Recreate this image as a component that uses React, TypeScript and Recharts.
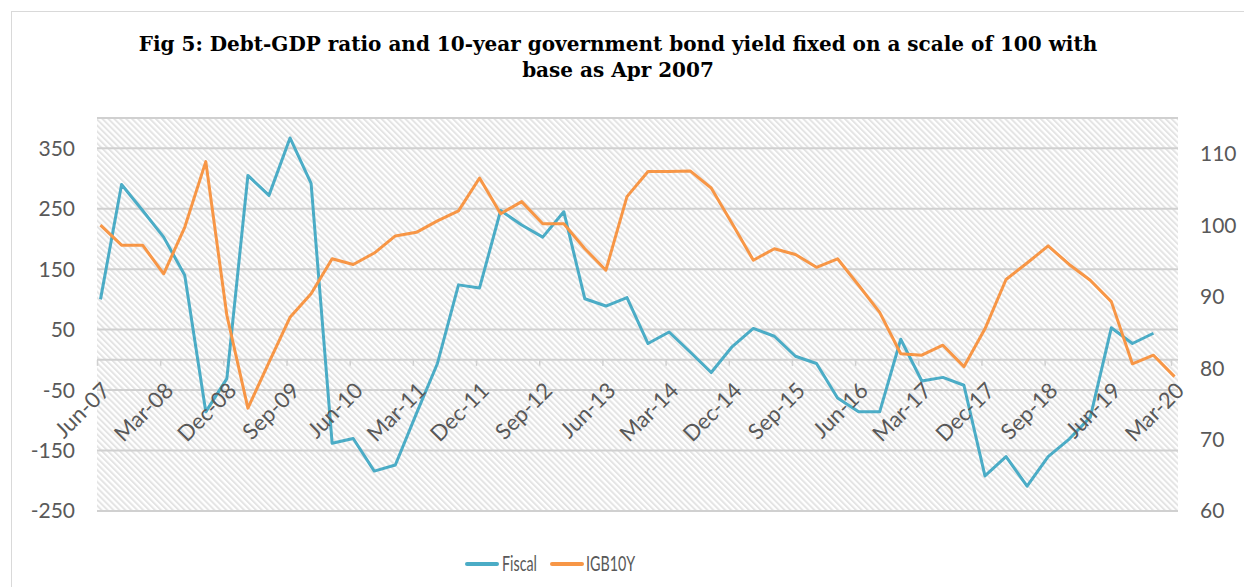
import { LineChart, Line, XAxis, YAxis, CartesianGrid, ReferenceLine } from 'recharts'

// quarterly categories, Jun-07 .. Mar-20
const quarters = [
  'Jun-07', 'Sep-07', 'Dec-07', 'Mar-08', 'Jun-08', 'Sep-08', 'Dec-08', 'Mar-09',
  'Jun-09', 'Sep-09', 'Dec-09', 'Mar-10', 'Jun-10', 'Sep-10', 'Dec-10', 'Mar-11',
  'Jun-11', 'Sep-11', 'Dec-11', 'Mar-12', 'Jun-12', 'Sep-12', 'Dec-12', 'Mar-13',
  'Jun-13', 'Sep-13', 'Dec-13', 'Mar-14', 'Jun-14', 'Sep-14', 'Dec-14', 'Mar-15',
  'Jun-15', 'Sep-15', 'Dec-15', 'Mar-16', 'Jun-16', 'Sep-16', 'Dec-16', 'Mar-17',
  'Jun-17', 'Sep-17', 'Dec-17', 'Mar-18', 'Jun-18', 'Sep-18', 'Dec-18', 'Mar-19',
  'Jun-19', 'Sep-19', 'Dec-19', 'Mar-20',
]

const fiscal = [
  100, 290, 247, 203, 140, -86, -31, 305,
  272, 367, 292, -138, -130, -184, -174, -89,
  -6, 124, 119, 247, 223, 203, 245, 101,
  89, 103, 27, 46, 13, -21, 22, 52,
  39, 6, -6, -63, -86, -86, 34, -35,
  -29, -42, -192, -160, -209, -160, -131, -95,
  53, 27, 44, null,
]

const igb10y = [
  100.0, 97.2, 97.2, 93.2, 99.7, 108.9, 87.4, 74.4,
  80.8, 87.1, 90.4, 95.3, 94.5, 96.1, 98.5, 99.0,
  100.6, 102.0, 106.6, 101.6, 103.3, 100.2, 100.2, 96.7,
  93.7, 104.0, 107.5, 107.5, 107.6, 105.2, 100.2, 95.1,
  96.7, 95.9, 94.1, 95.3, 91.6, 87.8, 82.0, 81.8,
  83.2, 80.2, 85.5, 92.4, 94.7, 97.1, 94.5, 92.3,
  89.3, 80.6, 81.8, 78.8,
]

const leftTicks = [-250, -150, -50, 50, 150, 250, 350]
const rightTicks = [60, 70, 80, 90, 100, 110]

const LEFT_MIN = -250
const LEFT_MAX = 400
const RIGHT_MIN = 60
const RIGHT_MAX = 115

const data = quarters.map((q, i) => ({ q, fiscal: fiscal[i], igb10y: igb10y[i] }))

const W = 1244
const H = 579
const TOP = 110
const X_AXIS_H = 20
const BOTTOM = 56
const PLOT_H = H - TOP - BOTTOM - X_AXIS_H
// the category axis crosses the left axis at 0
const ZERO_Y = TOP + (PLOT_H * LEFT_MAX) / (LEFT_MAX - LEFT_MIN)

const TEAL = '#4BACC6'
const ORANGE = '#F79646'
const GRID = '#d0d0d0'
const TEXT = '#595959'
const FONT = 'Lato, "Open Sans", sans-serif'

const CategoryTick = ({ x, payload }: any) => {
  const tx = x + 5
  const ty = ZERO_Y + 26
  return (
    <g>
      <line x1={x - 3} x2={x - 3} y1={ZERO_Y} y2={ZERO_Y + 6} stroke={GRID} strokeWidth={1.5} />
      <text
        x={tx}
        y={ty}
        transform={`rotate(-45 ${tx} ${ty})`}
        textAnchor="end"
        dominantBaseline="central"
        fill={TEXT}
        fontSize={22}
        fontFamily={FONT}
      >
        {payload.value}
      </text>
    </g>
  )
}

const LegendItem = ({ color, label, left, textLeft }: any) => (
  <>
    <div style={{ position: 'absolute', left, top: 554, width: 34, height: 4, borderRadius: 2, background: color }} />
    <div
      style={{
        position: 'absolute', left: textLeft, top: 541, fontFamily: FONT, fontSize: 22,
        color: TEXT, transform: 'scaleX(0.65)', transformOrigin: 'left center', whiteSpace: 'nowrap',
      }}
    >
      {label}
    </div>
  </>
)

export default function App() {
  return (
    <div style={{ position: 'relative', width: W, height: H, overflow: 'hidden' }}>
      <div style={{ position: 'absolute', left: 3, top: 3, width: 1300, height: 700, border: '1px solid #d9d9d9' }} />
      <div
        style={{
          position: 'absolute', left: 0, top: 23, width: 1220, textAlign: 'center',
          fontFamily: '"DejaVu Serif", serif', fontWeight: 'bold', fontSize: 20,
          lineHeight: '26px', color: '#000',
        }}
      >
        Fig 5: Debt-GDP ratio and 10-year government bond yield fixed on a scale of 100 with
        <br />
        base as Apr 2007
      </div>
      <div style={{ position: 'absolute', left: 0, top: 0 }}>
        <LineChart width={W} height={H} data={data} margin={{ top: TOP, right: 0, bottom: BOTTOM, left: 0 }}>
          <defs>
            <pattern id="hatch" width="4.2" height="4.2" patternUnits="userSpaceOnUse" patternTransform="rotate(-45)">
              <rect x="0" y="0" width="2" height="4.2" fill="#e4e4e4" />
            </pattern>
          </defs>
          <CartesianGrid
            yAxisId="left"
            vertical={false}
            stroke={GRID}
            strokeWidth={2}
            fill="url(#hatch)"
            fillOpacity={1}
          />
          <XAxis
            dataKey="q"
            interval={2}
            height={X_AXIS_H}
            axisLine={false}
            tickLine={false}
            padding={{ left: 3.5, right: 3.5 }}
            tick={<CategoryTick />}
          />
          <YAxis
            yAxisId="left"
            orientation="left"
            width={89}
            domain={[LEFT_MIN, LEFT_MAX]}
            ticks={leftTicks}
            axisLine={false}
            tickLine={false}
            tickSize={0}
            tickMargin={22}
            tick={{ fill: TEXT, fontSize: 21, fontFamily: FONT }}
          />
          <YAxis
            yAxisId="right"
            orientation="right"
            width={74}
            domain={[RIGHT_MIN, RIGHT_MAX]}
            ticks={rightTicks}
            axisLine={false}
            tickLine={false}
            tickSize={0}
            tickMargin={22}
            tick={{ fill: TEXT, fontSize: 21, fontFamily: FONT }}
          />
          <ReferenceLine yAxisId="left" y={0} stroke={GRID} strokeWidth={2} />
          <Line
            yAxisId="left"
            type="linear"
            dataKey="fiscal"
            stroke={TEAL}
            strokeWidth={3}
            dot={false}
            strokeLinejoin="round"
            isAnimationActive={false}
          />
          <Line
            yAxisId="right"
            type="linear"
            dataKey="igb10y"
            stroke={ORANGE}
            strokeWidth={3}
            dot={false}
            strokeLinejoin="round"
            isAnimationActive={false}
          />
        </LineChart>
      </div>
      <LegendItem color={TEAL} label="Fiscal" left={457} textLeft={494} />
      <LegendItem color={ORANGE} label="IGB10Y" left={542} textLeft={578} />
    </div>
  )
}
